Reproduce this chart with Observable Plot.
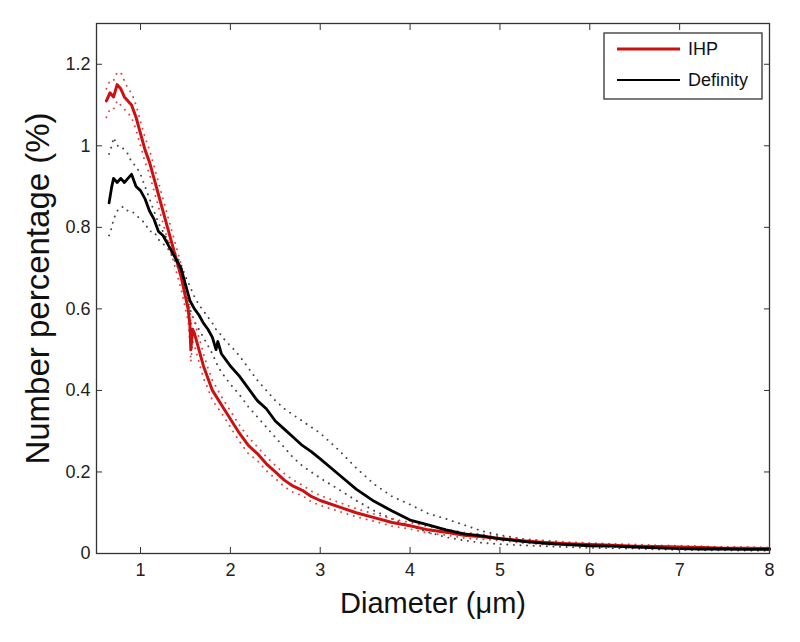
<!DOCTYPE html>
<html><head><meta charset="utf-8">
<script src="https://cdn.jsdelivr.net/npm/d3@7"></script>
<script src="https://cdn.jsdelivr.net/npm/@observablehq/plot@0.6"></script>
<style>body{margin:0;background:#fff;}</style>
</head><body><div id="chart"></div>
<script>
const seriesNames = ["IHP", "Definity"];
const seriesColors = ["#cc1111", "#000000"];
const xTicks = [1, 2, 3, 4, 5, 6, 7, 8];
const yTicks = [0, 0.2, 0.4, 0.6, 0.8, 1, 1.2];

const ihpX = [0.62,0.66,0.70,0.74,0.78,0.82,0.86,0.90,0.95,1.0,1.05,1.1,1.15,1.2,1.25,1.3,1.35,1.4,1.45,1.5,1.53,1.55,1.56,1.58,1.6,1.65,1.7,1.75,1.8,1.9,2.0,2.1,2.2,2.3,2.4,2.5,2.6,2.7,2.8,2.9,3.0,3.2,3.4,3.6,3.8,4.0,4.2,4.4,4.6,4.8,5.0,5.25,5.5,5.75,6.0,6.25,6.5,6.75,7.0,7.25,7.5,7.75,8.0];
const ihpMean = [1.11,1.13,1.12,1.15,1.14,1.12,1.11,1.10,1.07,1.03,0.99,0.96,0.92,0.88,0.84,0.80,0.76,0.72,0.68,0.63,0.60,0.56,0.50,0.55,0.54,0.50,0.46,0.43,0.40,0.365,0.33,0.295,0.265,0.245,0.22,0.20,0.18,0.165,0.155,0.14,0.13,0.115,0.10,0.088,0.076,0.068,0.058,0.052,0.045,0.041,0.037,0.031,0.027,0.024,0.022,0.020,0.018,0.017,0.016,0.015,0.013,0.013,0.012];
const ihpUpper = [1.14,1.16,1.16,1.18,1.18,1.16,1.14,1.13,1.10,1.06,1.02,0.99,0.95,0.91,0.87,0.83,0.79,0.75,0.71,0.66,0.63,0.60,0.56,0.58,0.57,0.53,0.49,0.455,0.425,0.385,0.35,0.315,0.285,0.262,0.237,0.216,0.196,0.18,0.168,0.153,0.142,0.126,0.11,0.097,0.085,0.076,0.066,0.059,0.052,0.047,0.042,0.036,0.032,0.028,0.026,0.024,0.022,0.02,0.019,0.018,0.016,0.016,0.015];
const ihpLower = [1.07,1.09,1.09,1.11,1.10,1.09,1.08,1.07,1.04,1.00,0.96,0.93,0.89,0.85,0.81,0.77,0.73,0.69,0.65,0.60,0.57,0.52,0.47,0.52,0.51,0.47,0.43,0.405,0.375,0.345,0.31,0.275,0.245,0.228,0.203,0.184,0.164,0.15,0.142,0.127,0.118,0.104,0.09,0.079,0.067,0.06,0.05,0.045,0.038,0.035,0.032,0.026,0.022,0.02,0.018,0.016,0.014,0.014,0.013,0.012,0.010,0.010,0.009];

const defX = [0.65,0.68,0.70,0.74,0.78,0.82,0.86,0.90,0.95,1.0,1.05,1.1,1.15,1.2,1.25,1.3,1.35,1.4,1.45,1.5,1.55,1.6,1.65,1.7,1.75,1.8,1.84,1.86,1.9,1.95,2.0,2.1,2.2,2.3,2.4,2.5,2.6,2.7,2.8,2.9,3.0,3.2,3.4,3.6,3.8,4.0,4.2,4.4,4.6,4.8,5.0,5.25,5.5,5.75,6.0,6.25,6.5,6.75,7.0,7.25,7.5,7.75,8.0];
const defMean = [0.86,0.90,0.92,0.91,0.92,0.91,0.92,0.93,0.90,0.89,0.87,0.84,0.82,0.79,0.78,0.76,0.74,0.72,0.70,0.66,0.62,0.60,0.585,0.565,0.55,0.53,0.50,0.52,0.49,0.475,0.46,0.435,0.405,0.375,0.355,0.325,0.305,0.285,0.265,0.25,0.232,0.195,0.158,0.128,0.104,0.082,0.07,0.058,0.048,0.043,0.036,0.03,0.025,0.022,0.019,0.018,0.016,0.014,0.012,0.011,0.011,0.01,0.01];
const defUpper = [0.98,1.0,1.02,1.0,1.0,0.99,0.98,0.96,0.95,0.93,0.90,0.87,0.84,0.81,0.79,0.77,0.75,0.73,0.71,0.68,0.655,0.63,0.61,0.595,0.58,0.565,0.55,0.545,0.535,0.52,0.51,0.485,0.455,0.425,0.40,0.375,0.355,0.34,0.325,0.31,0.295,0.255,0.21,0.17,0.14,0.12,0.098,0.085,0.07,0.055,0.045,0.036,0.03,0.026,0.023,0.021,0.019,0.017,0.015,0.014,0.013,0.013,0.012];
const defLower = [0.78,0.80,0.82,0.84,0.85,0.85,0.84,0.84,0.83,0.82,0.81,0.79,0.79,0.77,0.76,0.75,0.73,0.71,0.68,0.64,0.60,0.57,0.55,0.53,0.51,0.49,0.47,0.46,0.445,0.43,0.415,0.39,0.36,0.335,0.31,0.285,0.26,0.235,0.215,0.20,0.185,0.158,0.13,0.105,0.085,0.068,0.052,0.04,0.032,0.026,0.023,0.02,0.018,0.016,0.014,0.013,0.012,0.01,0.009,0.008,0.008,0.007,0.007];

const rows = (xs, ys) => xs.map((x, i) => ({x, y: ys[i]}));
const font = "'Liberation Sans', Arial, Helvetica, sans-serif";
const dotted = {x: "x", y: "y", strokeWidth: 1.9, strokeDasharray: "0.1,6.5", strokeLinecap: "round"};

const chart = Plot.plot({
  width: 800, height: 642,
  marginLeft: 96, marginRight: 31, marginTop: 23, marginBottom: 89,
  style: {fontFamily: font, background: "#fff", color: "#222"},
  x: {domain: [0.51, 8]},
  y: {domain: [0, 1.3]},
  marks: [
    Plot.line(rows(defX, defUpper), {...dotted, stroke: "#444"}),
    Plot.line(rows(defX, defLower), {...dotted, stroke: "#444"}),
    Plot.line(rows(ihpX, ihpUpper), {...dotted, stroke: "#dd4444"}),
    Plot.line(rows(ihpX, ihpLower), {...dotted, stroke: "#dd4444"}),
    Plot.line(rows(ihpX, ihpMean), {x: "x", y: "y", stroke: seriesColors[0], strokeWidth: 3, strokeLinejoin: "round"}),
    Plot.line(rows(defX, defMean), {x: "x", y: "y", stroke: seriesColors[1], strokeWidth: 2.8, strokeLinejoin: "round"}),
    Plot.frame({stroke: "#333", strokeWidth: 1.3}),
    Plot.axisX(xTicks, {anchor: "bottom", tickSize: -6, tickPadding: 16, fontSize: 18, label: null, stroke: "#333"}),
    Plot.axisX(xTicks, {anchor: "top", tickSize: -6, tickFormat: () => "", label: null, stroke: "#333"}),
    Plot.axisY(yTicks, {anchor: "left", tickSize: -6, tickPadding: 12, fontSize: 18, label: null, stroke: "#333", tickFormat: d => String(d)}),
    Plot.axisY(yTicks, {anchor: "right", tickSize: -6, tickFormat: () => "", label: null, stroke: "#333"}),
    Plot.text(["Diameter (μm)"], {text: d => d, frameAnchor: "bottom", lineAnchor: "middle", dy: 50, fontSize: 29, fill: "#111"}),
    Plot.text(["Number percentage (%)"], {text: d => d, frameAnchor: "left", textAnchor: "middle", rotate: -90, dx: -58, fontSize: 33, fill: "#111"})
  ]
});
document.getElementById("chart").appendChild(chart);

// Legend (inside the plot, top-right, as in the reference)
const svg = d3.select(chart);
const lg = svg.append("g").attr("font-family", font).attr("font-size", 18).attr("text-anchor", "start");
lg.append("rect").attr("x", 604).attr("y", 33).attr("width", 158).attr("height", 66)
  .attr("fill", "#fff").attr("stroke", "#333").attr("stroke-width", 1.3);
seriesNames.forEach((name, i) => {
  const yy = 49 + i * 31;
  lg.append("line").attr("x1", 617).attr("x2", 680).attr("y1", yy).attr("y2", yy)
    .attr("stroke", seriesColors[i]).attr("stroke-width", i === 0 ? 3 : 2.2);
  lg.append("text").attr("x", 688).attr("y", yy).attr("dy", "0.35em").attr("fill", "#111").text(name);
});
</script>
</body></html>
